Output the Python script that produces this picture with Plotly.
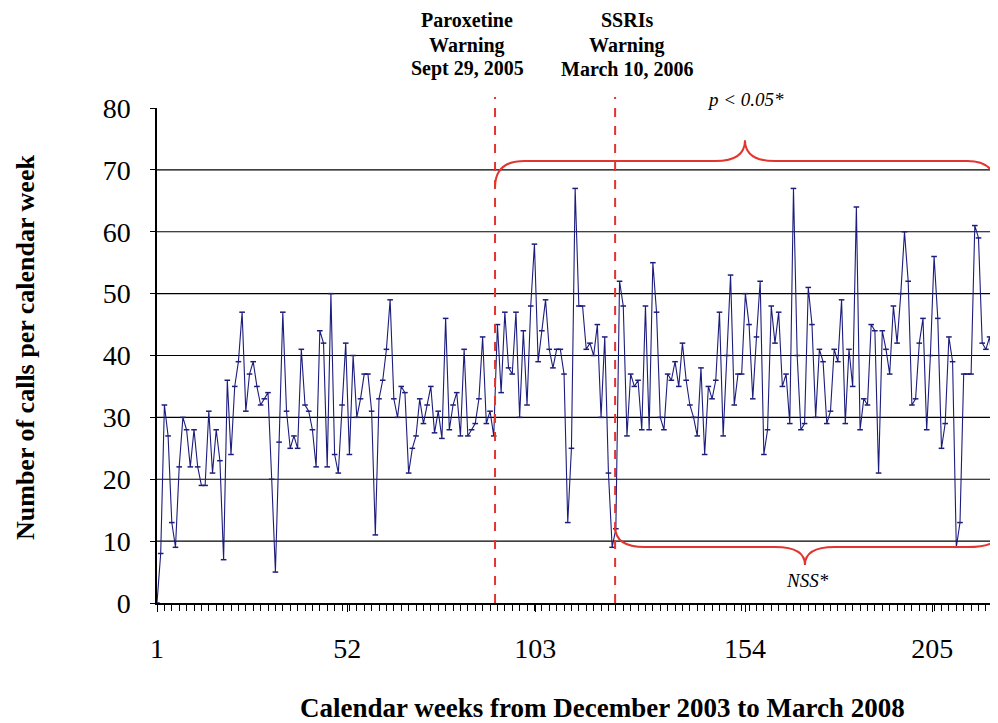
import plotly.graph_objects as go

# Weekly call counts, weeks 1..228
calls = [
    0, 8, 32, 27, 13, 9, 22, 30, 28, 22, 28, 22, 19, 19, 31, 21, 28, 23, 7, 36, 24, 35, 39,
    47, 31, 37, 39, 35, 32, 33, 34, 20, 5, 26, 47, 31, 25, 27, 25, 41, 32, 31, 28, 22, 44, 42,
    22, 50, 24, 21, 32, 42, 24, 40, 30, 33, 37, 37, 31, 11, 33, 36, 41, 49, 33, 30, 35, 34, 21,
    25, 27, 33, 29, 32, 35, 27.5, 31, 26.6, 46, 28, 32, 34, 27, 41, 27, 28, 29, 33, 43, 29, 31,
    27, 45, 34, 47, 38, 37, 47, 30, 44, 32, 48, 58, 39, 44, 49, 41, 38, 41, 41, 37, 13, 25, 67,
    48, 48, 41, 42, 40, 45, 30, 43, 21, 9, 12, 52, 48, 27, 37, 35, 36, 28, 48, 28, 55, 47, 30,
    28, 37, 36, 39, 35, 42, 36, 32, 30, 27, 38, 24, 35, 33, 36, 47, 27, 40, 53, 32, 37, 37, 50,
    45, 33, 43, 52, 24, 28, 48, 42, 47, 35, 37, 29, 67, 40, 28, 29, 51, 45, 30, 41, 39, 29, 31, 41,
    39, 49, 29, 41, 35, 64, 28, 33, 32, 45, 44, 21, 44, 41, 37, 48, 42, 50, 60, 52, 32, 33, 42,
    46, 28, 40, 56, 46, 25, 29, 43, 39, 9, 13, 37, 37, 37, 61, 59, 42, 41, 43, 37, 33,
]
weeks = list(range(1, len(calls) + 1))

# tick label positions (as they sit on the original axis)
x_tick_vals = [1, 52.4, 103.2, 159.9, 210.5]
x_tick_text = ["1", "52", "103", "154", "205"]
y_tick_vals = [0, 10, 20, 30, 40, 50, 60, 70, 80]
grid_vals = [10, 20, 30, 40, 50, 60, 70]

# Warning events (week positions)
paroxetine_week = 92.35
ssri_week = 124.8

RED = "#e3342f"
NAVY = "#1c1c7c"
SERIF = "Liberation Serif, Times New Roman, serif"

fig = go.Figure()
fig.add_trace(go.Scatter(
    x=weeks, y=calls, mode="lines+markers",
    line=dict(color=NAVY, width=1.1),
    marker=dict(symbol="line-ew", size=4, line=dict(color=NAVY, width=1.5)),
    showlegend=False, hoverinfo="x+y",
))

shapes = []
for g in grid_vals:
    shapes.append(dict(type="line", xref="paper", yref="y", x0=0, x1=1, y0=g, y1=g,
                       line=dict(color="black", width=1.2), layer="below"))
for wk in (paroxetine_week, ssri_week):
    shapes.append(dict(type="line", xref="x", yref="paper", x0=wk, x1=wk, y0=0, y1=1.022,
                       line=dict(color=RED, width=2, dash="dash")))


def brace(x0, x1, xm, yl, ytip, ye0, ye1, dx=8.0):
    return (f"M {x0},{ye0} Q {x0},{yl} {x0+dx},{yl} L {xm-dx},{yl} "
            f"Q {xm},{yl} {xm},{ytip} Q {xm},{yl} {xm+dx},{yl} "
            f"L {x1-dx},{yl} Q {x1},{yl} {x1},{ye1}")


x_end = weeks[-1]
top_mid = 159.9
bot_mid = 176.1
shapes.append(dict(type="path", xref="x", yref="paper",
                   path=brace(paroxetine_week, x_end, top_mid, 0.893, 0.935, 0.840, 0.834),
                   line=dict(color=RED, width=2)))
shapes.append(dict(type="path", xref="x", yref="paper",
                   path=brace(ssri_week, x_end, bot_mid, 0.113, 0.077, 0.154, 0.137),
                   line=dict(color=RED, width=2)))


def ann(x, y, text, size, xref="paper", angle=0, italic=False):
    return dict(x=x, y=y, xref=xref, yref="paper", text=text, showarrow=False,
                xanchor="center", yanchor="middle", textangle=angle,
                font=dict(family=SERIF, size=size, color="black"))


annotations = []
par_lines = ["Paroxetine", "Warning", "Sept 29, 2005"]
ssr_lines = ["SSRIs", "Warning", "March 10, 2006"]
line_py = [20, 45, 69]
for txt, py in zip(par_lines, line_py):
    annotations.append(ann((467 - 157) / 840, (603 - py) / 495, f"<b>{txt}</b>", 20))
for txt, py in zip(ssr_lines, line_py):
    annotations.append(ann((627 - 157) / 840, (603 - py) / 495, f"<b>{txt}</b>", 20))
annotations.append(ann(top_mid, (603 - 100) / 495, "<i>p < 0.05*</i>", 19, xref="x"))
annotations.append(ann(bot_mid + 0.8, (603 - 580) / 495, "<i>NSS*</i>", 19, xref="x"))
annotations.append(ann((25 - 157) / 840, (603 - 348) / 495,
                       "<b>Number of calls per calendar week</b>", 26, angle=-90))
annotations.append(ann((602 - 157) / 840, (603 - 708) / 495,
                       "<b>Calendar weeks from December 2003 to March 2008</b>", 27))

fig.update_layout(
    width=990, height=715,
    margin=dict(l=149, r=1, t=100, b=120),
    paper_bgcolor="white", plot_bgcolor="white",
    shapes=shapes, annotations=annotations,
    xaxis=dict(range=[1, x_end], tickvals=x_tick_vals, ticktext=x_tick_text,
               showgrid=False, zeroline=False, showline=True, linecolor="black", linewidth=1.5,
               ticks="outside", ticklen=7, tickcolor="black", tickwidth=1.2,
               ticklabelstandoff=13,
               minor=dict(dtick=2, tick0=1, ticks="outside", ticklen=6, tickcolor="black",
                          tickwidth=1, showgrid=False),
               tickfont=dict(family=SERIF, size=28, color="black")),
    yaxis=dict(range=[0, 80], tickvals=y_tick_vals, showgrid=False, zeroline=False,
               showline=True, linecolor="black", linewidth=1.5,
               ticks="outside", ticklen=5, tickcolor="black",
               ticklabelstandoff=14,
               tickfont=dict(family=SERIF, size=28, color="black")),
)

fig.write_html("out.html")
